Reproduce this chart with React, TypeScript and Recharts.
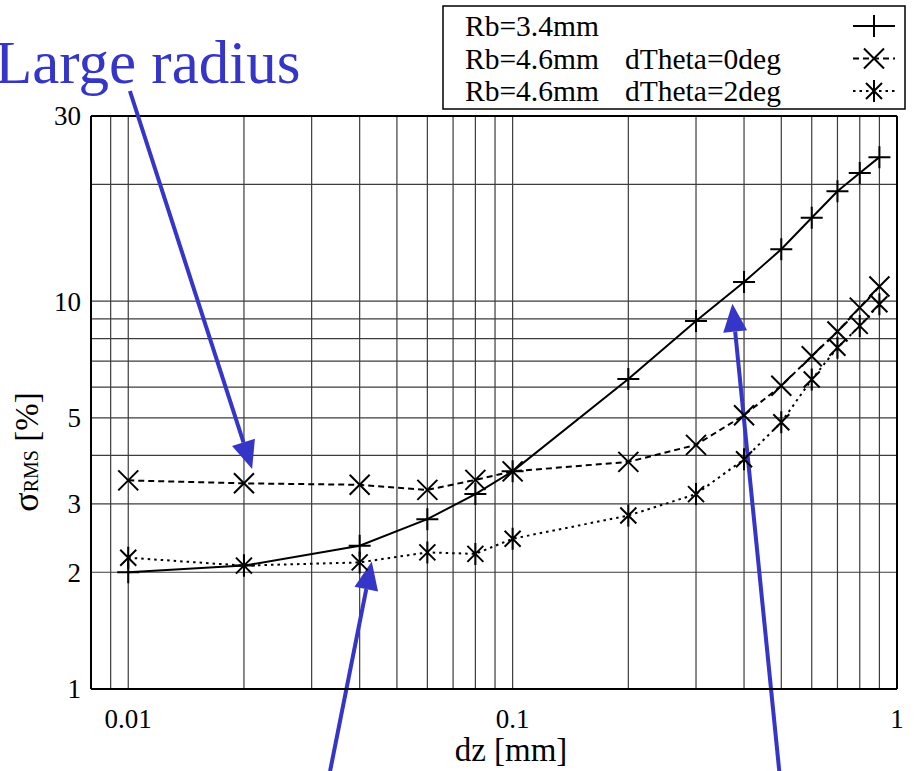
import React from "react";
import {
  LineChart,
  Line,
  XAxis,
  YAxis,
  ReferenceLine,
  Customized,
} from "recharts";

// dz [mm] sample points
const DZ = [0.01, 0.02, 0.04, 0.06, 0.08, 0.1, 0.2, 0.3, 0.4, 0.5, 0.6, 0.7, 0.8, 0.9];

// sigma_RMS [%]
const RB34 = [2.0, 2.08, 2.34, 2.74, 3.18, 3.64, 6.3, 8.89, 11.2, 13.6, 16.4, 19.2, 21.4, 23.5];
const RB46_T0 = [3.45, 3.39, 3.36, 3.26, 3.46, 3.64, 3.85, 4.26, 5.08, 6.05, 7.21, 8.35, 9.62, 10.9];
const RB46_T2 = [2.18, 2.08, 2.12, 2.25, 2.23, 2.44, 2.8, 3.18, 3.91, 4.87, 6.28, 7.58, 8.63, 9.81];

const X_TICKS = [0.01, 0.1, 1];
const Y_TICKS = [1, 2, 3, 5, 10, 30];
const X_GRID = [0.009, 0.01, 0.02, 0.03, 0.04, 0.05, 0.06, 0.07, 0.08, 0.09, 0.1, 0.2, 0.3, 0.4, 0.5, 0.6, 0.7, 0.8, 0.9];
const Y_GRID = [2, 3, 4, 5, 6, 7, 8, 9, 10, 20];

const LEGEND = [
  { name: "Rb=3.4mm", extra: "", dash: undefined as string | undefined, marker: "plus" },
  { name: "Rb=4.6mm", extra: "dTheta=0deg", dash: "6 4", marker: "cross" },
  { name: "Rb=4.6mm", extra: "dTheta=2deg", dash: "2.5 4", marker: "star" },
];

// annotation arrows, [tail, tip] in data units
const ARROWS = [
  [{ x: 0.0101, y: 34.8 }, { x: 0.021, y: 3.69 }],
  [{ x: 0.0335, y: 0.614 }, { x: 0.043, y: 2.13 }],
  [{ x: 0.494, y: 0.614 }, { x: 0.373, y: 9.85 }],
];

const FONT = "Liberation Serif, Tinos, DejaVu Serif, Noto Serif, serif";
const BLUE = "#3535c8";

const data = DZ.map((dz, i) => ({
  dz,
  a: RB34[i],
  b: RB46_T0[i],
  c: RB46_T2[i],
}));

function marker(kind: string, cx: number, cy: number, key?: any) {
  const s = 11;
  let d = "";
  if (kind === "plus") {
    d = `M${cx - s},${cy}H${cx + s}M${cx},${cy - s}V${cy + s}`;
  } else if (kind === "cross") {
    const t = 10;
    d = `M${cx - t},${cy - t}L${cx + t},${cy + t}M${cx - t},${cy + t}L${cx + t},${cy - t}`;
  } else {
    const t = 8;
    d = `M${cx - t},${cy - t}L${cx + t},${cy + t}M${cx - t},${cy + t}L${cx + t},${cy - t}M${cx},${cy - s}V${cy + s}`;
  }
  return <path key={key} d={d} stroke="#000" strokeWidth={2} fill="none" />;
}

const dotFor = (kind: string) => (props: any) =>
  marker(kind, props.cx, props.cy, props.key ?? `${kind}-${props.index}`);

const XTick = (props: any) => {
  const { x, y, payload } = props;
  return (
    <text x={x} y={y + 37} textAnchor="middle" fontSize={27} fontFamily={FONT} fill="#000">
      {String(payload.value)}
    </text>
  );
};

const YTick = (props: any) => {
  const { x, y, payload } = props;
  return (
    <text x={x - 8} y={y} dy="0.35em" textAnchor="end" fontSize={27} fontFamily={FONT} fill="#000">
      {String(payload.value)}
    </text>
  );
};

const Arrow = (props: any) => {
  const { x1, y1, x2, y2 } = props;
  const dx = x2 - x1;
  const dy = y2 - y1;
  const len = Math.sqrt(dx * dx + dy * dy) || 1;
  const ux = dx / len;
  const uy = dy / len;
  const hl = 28;
  const hw = 12;
  const bx = x2 - ux * hl;
  const by = y2 - uy * hl;
  return (
    <g>
      <line x1={x1} y1={y1} x2={bx} y2={by} stroke={BLUE} strokeWidth={4} />
      <polygon
        points={`${x2},${y2} ${bx - uy * hw},${by + ux * hw} ${bx + uy * hw},${by - ux * hw}`}
        fill={BLUE}
      />
    </g>
  );
};

const Decorations = () => (
  <g fontFamily={FONT}>
    <text x={-5} y={83} fontSize={61} fill={BLUE} fontFamily={FONT}>
      Large radius
    </text>
    <text x={511} y={761} textAnchor="middle" fontSize={33} fill="#000" fontFamily={FONT}>
      dz [mm]
    </text>
    <text
      x={38}
      y={452}
      textAnchor="middle"
      fill="#000"
      transform="rotate(-90 38 452)"
      fontSize={33}
      fontFamily={FONT}
    >
      <tspan fontSize={36}>σ</tspan>
      <tspan fontSize={20}>RMS</tspan>
      <tspan> [%]</tspan>
    </text>
    <rect x={443} y={6} width={462} height={103} fill="#fff" stroke="#000" strokeWidth={1.5} />
    {LEGEND.map((l, i) => {
      const base = 36 + i * 32.5;
      const ly = base - 10;
      return (
        <g key={i}>
          <text x={465} y={base} fontSize={29.5} fill="#000" fontFamily={FONT}>
            {l.name}
          </text>
          {l.extra && (
            <text x={625} y={base} fontSize={29.5} fill="#000" fontFamily={FONT}>
              {l.extra}
            </text>
          )}
          <line
            x1={853}
            y1={ly}
            x2={895}
            y2={ly}
            stroke="#000"
            strokeWidth={2}
            strokeDasharray={l.dash}
          />
          {marker(l.marker, 874, ly)}
        </g>
      );
    })}
  </g>
);

export default function App() {
  return (
    <div style={{ position: "absolute", left: 0, top: 0, background: "#fff" }}>
      <LineChart
        width={916}
        height={771}
        data={data}
        margin={{ top: 116, right: 19, bottom: 0, left: 0 }}
      >
        <XAxis
          dataKey="dz"
          type="number"
          scale="log"
          domain={[0.008, 1]}
          allowDataOverflow
          ticks={X_TICKS}
          tick={<XTick />}
          tickLine={false}
          tickSize={0}
          height={82}
          axisLine={{ stroke: "#000", strokeWidth: 2 }}
        />
        <YAxis
          type="number"
          scale="log"
          domain={[1, 30]}
          allowDataOverflow
          ticks={Y_TICKS}
          tick={<YTick />}
          tickLine={false}
          tickSize={0}
          width={91}
          axisLine={{ stroke: "#000", strokeWidth: 2 }}
        />
        {X_GRID.map((v) => (
          <ReferenceLine key={`gx${v}`} x={v} stroke="#3c3c3c" strokeWidth={1.2} />
        ))}
        {Y_GRID.map((v) => (
          <ReferenceLine key={`gy${v}`} y={v} stroke="#3c3c3c" strokeWidth={1.2} />
        ))}
        <ReferenceLine y={30} stroke="#000" strokeWidth={2} />
        <ReferenceLine x={1} stroke="#000" strokeWidth={2} />
        <Line
          dataKey="a"
          stroke="#000"
          strokeWidth={2}
          dot={dotFor("plus")}
          activeDot={false}
          isAnimationActive={false}
        />
        <Line
          dataKey="b"
          stroke="#000"
          strokeWidth={2}
          strokeDasharray="6 4"
          dot={dotFor("cross")}
          activeDot={false}
          isAnimationActive={false}
        />
        <Line
          dataKey="c"
          stroke="#000"
          strokeWidth={2}
          strokeDasharray="2.5 4"
          dot={dotFor("star")}
          activeDot={false}
          isAnimationActive={false}
        />
        <Customized component={Decorations} />
        {ARROWS.map((seg, i) => (
          <ReferenceLine
            key={`arrow${i}`}
            segment={seg}
            ifOverflow="visible"
            shape={<Arrow />}
          />
        ))}
      </LineChart>
    </div>
  );
}
